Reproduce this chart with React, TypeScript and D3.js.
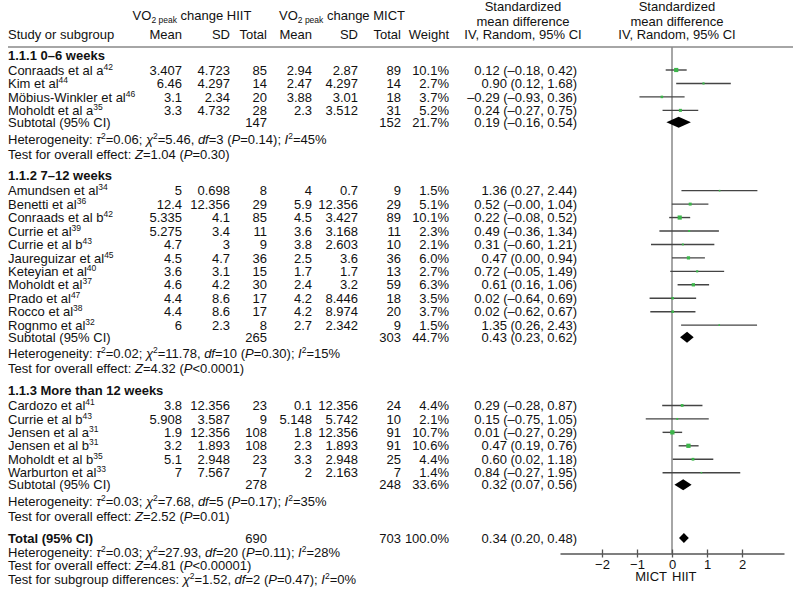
import React, { useEffect, useRef } from "react";
import * as d3 from "d3";

// name, sup, hiit mean, hiit sd, hiit n, mict mean, mict sd, mict n, weight, smd, lo, hi
type Row = [string, string, number, number, number, number, number, number, number, number, number, number];

const sectionTitles = ["1.1.1 0\u20136 weeks", "1.1.2 7\u201312 weeks", "1.1.3 More than 12 weeks"];

const studies0to6: Row[] = [
  ["Conraads et al a", "42", 3.407, 4.723, 85, 2.94, 2.87, 89, 10.1, 0.12, -0.18, 0.42],
  ["Kim et al", "44", 6.46, 4.297, 14, 2.47, 4.297, 14, 2.7, 0.9, 0.12, 1.68],
  ["M\u00f6bius-Winkler et al", "46", 3.1, 2.34, 20, 3.88, 3.01, 18, 3.7, -0.29, -0.93, 0.36],
  ["Moholdt et al a", "35", 3.3, 4.732, 28, 2.3, 3.512, 31, 5.2, 0.24, -0.27, 0.75],
];

const studies7to12: Row[] = [
  ["Amundsen et al", "34", 5, 0.698, 8, 4, 0.7, 9, 1.5, 1.36, 0.27, 2.44],
  ["Benetti et al", "36", 12.4, 12.356, 29, 5.9, 12.356, 29, 5.1, 0.52, -0.004, 1.04],
  ["Conraads et al b", "42", 5.335, 4.1, 85, 4.5, 3.427, 89, 10.1, 0.22, -0.08, 0.52],
  ["Currie et al", "39", 5.275, 3.4, 11, 3.6, 3.168, 11, 2.3, 0.49, -0.36, 1.34],
  ["Currie et al b", "43", 4.7, 3, 9, 3.8, 2.603, 10, 2.1, 0.31, -0.6, 1.21],
  ["Jaureguizar et al", "45", 4.5, 4.7, 36, 2.5, 3.6, 36, 6.0, 0.47, 0.0, 0.94],
  ["Keteyian et al", "40", 3.6, 3.1, 15, 1.7, 1.7, 13, 2.7, 0.72, -0.05, 1.49],
  ["Moholdt et al", "37", 4.6, 4.2, 30, 2.4, 3.2, 59, 6.3, 0.61, 0.16, 1.06],
  ["Prado et al", "47", 4.4, 8.6, 17, 4.2, 8.446, 18, 3.5, 0.02, -0.64, 0.69],
  ["Rocco et al", "38", 4.4, 8.6, 17, 4.2, 8.974, 20, 3.7, 0.02, -0.62, 0.67],
  ["Rognmo et al", "32", 6, 2.3, 8, 2.7, 2.342, 9, 1.5, 1.35, 0.26, 2.43],
];

const studiesOver12: Row[] = [
  ["Cardozo et al", "41", 3.8, 12.356, 23, 0.1, 12.356, 24, 4.4, 0.29, -0.28, 0.87],
  ["Currie et al b", "43", 5.908, 3.587, 9, 5.148, 5.742, 10, 2.1, 0.15, -0.75, 1.05],
  ["Jensen et al a", "31", 1.9, 12.356, 108, 1.8, 12.356, 91, 10.7, 0.01, -0.27, 0.29],
  ["Jensen et al b", "31", 3.2, 1.893, 108, 2.3, 1.893, 91, 10.6, 0.47, 0.19, 0.76],
  ["Moholdt et al b", "35", 5.1, 2.948, 23, 3.3, 2.948, 25, 4.4, 0.6, 0.02, 1.18],
  ["Warburton et al", "33", 7, 7.567, 7, 2, 2.163, 7, 1.4, 0.84, -0.27, 1.95],
];

const sectionStudies = [studies0to6, studies7to12, studiesOver12];

// subtotals: hiit n, mict n, weight, smd, lo, hi
const subtotals: [number, number, number, number, number, number][] = [
  [147, 152, 21.7, 0.19, -0.16, 0.54],
  [265, 303, 44.7, 0.43, 0.23, 0.62],
  [278, 248, 33.6, 0.32, 0.07, 0.56],
];
const overall: [number, number, number, number, number, number] = [690, 703, 100.0, 0.34, 0.2, 0.48];

// heterogeneity: sections 1-3 then total
const hetTau2 = ["0.06", "0.02", "0.03", "0.03"];
const hetChi2 = ["5.46", "11.78", "7.68", "27.93"];
const hetDf = [3, 10, 5, 20];
const hetP = ["=0.14", "=0.30", "=0.17", "=0.11"];
const hetI2 = [45, 15, 35, 28];
const testZ = ["1.04", "4.32", "2.52", "4.81"];
const testP = ["=0.30", "<0.0001", "=0.01", "<0.00001"];
const subgroupChi2 = "1.52";
const subgroupDf = 2;
const subgroupP = "=0.47";
const subgroupI2 = 0;

const axisTicks = [-2, -1, 0, 1, 2];

const FONT = "'Liberation Sans', Arial, Helvetica, sans-serif";
const ROW = 13.45;
const GREEN = "#3cb54a";

const col = { mean1: 182, sd1: 230, n1: 267, mean2: 312, sd2: 358, n2: 401, w: 449, ci: 577 };

const fmtNum = (v: number) => v.toFixed(2).replace("-", "\u2013");
const ciText = (e: number, l: number, h: number) => `${fmtNum(e)} (${fmtNum(l)}, ${fmtNum(h)})`;

// text pieces: "" plain, "i" italic, "s" superscript
type Seg = [string, string];
const Rich = ({ segs }: { segs: Seg[] }) => (
  <>
    {segs.map((s, i) => {
      const prevSup = i > 0 && segs[i - 1][1] === "s";
      const dy = s[1] === "s" ? -5 : prevSup ? 5 : undefined;
      return (
        <tspan
          key={i}
          dy={dy}
          fontStyle={s[1] === "i" ? "italic" : undefined}
          fontSize={s[1] === "s" ? 8.5 : undefined}
        >
          {s[0]}
        </tspan>
      );
    })}
  </>
);

export default function App() {
  const axisRef = useRef<SVGGElement>(null);

  const x = d3.scaleLinear().domain([-3.2, 3.2]).range([560, 784]);
  const size = d3.scaleSqrt().domain([0, 10.7]).range([0, 4.3]);

  // layout of rows
  type Item = { kind: string; y: number; idx: number; s?: number };
  const items: Item[] = [];
  let y = 55;
  sectionStudies.forEach((list, s) => {
    items.push({ kind: "title", y, idx: s });
    y += 15;
    list.forEach((_, i) => {
      items.push({ kind: "study", y, idx: i, s });
      y += ROW;
    });
    y = y - ROW + 12;
    items.push({ kind: "sub", y, idx: s });
    y += 16.6;
    items.push({ kind: "het", y, idx: s });
    y += 15;
    items.push({ kind: "test", y, idx: s });
    y += 21.7;
  });
  const totalY = y;
  const axisY = totalY + 15.5;

  useEffect(() => {
    if (!axisRef.current) return;
    const g = d3.select(axisRef.current);
    g.selectAll("*").remove();
    g.call(
      d3.axisBottom(x).tickValues(axisTicks).tickSize(4).tickSizeOuter(0).tickFormat(d3.format("d")) as any
    );
    g.select(".domain").attr("stroke", "#555").attr("stroke-width", 1.3);
    g.selectAll(".tick line").attr("y1", -4).attr("stroke", "#555").attr("stroke-width", 1.3);
    g.selectAll(".tick text").attr("font-size", 13).attr("font-family", FONT).attr("fill", "#111").attr("y", 6);
  }, []);

  const baseline = (cy: number) => cy + 4.6;

  const hetSegs = (k: number): Seg[] => [
    ["Heterogeneity: ", ""],
    ["\u03c4", "i"],
    ["2", "s"],
    [`=${hetTau2[k]}; `, ""],
    ["\u03c7", "i"],
    ["2", "s"],
    [`=${hetChi2[k]}, `, ""],
    ["df", "i"],
    [`=${hetDf[k]} (`, ""],
    ["P", "i"],
    [`${hetP[k]}); `, ""],
    ["I", "i"],
    ["2", "s"],
    [`=${hetI2[k]}%`, ""],
  ];
  const testSegs = (k: number): Seg[] => [
    ["Test for overall effect: ", ""],
    ["Z", "i"],
    [`=${testZ[k]} (`, ""],
    ["P", "i"],
    [`${testP[k]})`, ""],
  ];
  const subgroupSegs: Seg[] = [
    ["Test for subgroup differences: ", ""],
    ["\u03c7", "i"],
    ["2", "s"],
    [`=${subgroupChi2}, `, ""],
    ["df", "i"],
    [`=${subgroupDf} (`, ""],
    ["P", "i"],
    [`${subgroupP}); `, ""],
    ["I", "i"],
    ["2", "s"],
    [`=${subgroupI2}%`, ""],
  ];

  const diamond = (e: number, l: number, h: number, cy: number, hh: number) => (
    <path
      d={`M${x(l)},${cy} L${x(e)},${cy - hh} L${x(h)},${cy} L${x(e)},${cy + hh} Z`}
      fill="#000"
    />
  );

  const hdrY = 38.8;

  return (
    <svg
      width={793}
      height={592}
      style={{ position: "absolute", left: 0, top: 0, background: "#fff" }}
      fontFamily={FONT}
      fontSize={13}
      fill="#111"
    >
      {/* headers */}
      <text x={192} y={19.5} textAnchor="middle">
        <tspan>VO</tspan>
        <tspan fontSize={8.5} dy={3}>2 peak</tspan>
        <tspan dy={-3}> change HIIT</tspan>
      </text>
      <text x={342} y={19.5} textAnchor="middle">
        <tspan>VO</tspan>
        <tspan fontSize={8.5} dy={3}>2 peak</tspan>
        <tspan dy={-3}> change MICT</tspan>
      </text>
      <text x={8} y={hdrY}>Study or subgroup</text>
      <text x={col.mean1} y={hdrY} textAnchor="end">Mean</text>
      <text x={col.sd1} y={hdrY} textAnchor="end">SD</text>
      <text x={col.n1} y={hdrY} textAnchor="end">Total</text>
      <text x={col.mean2} y={hdrY} textAnchor="end">Mean</text>
      <text x={col.sd2} y={hdrY} textAnchor="end">SD</text>
      <text x={col.n2} y={hdrY} textAnchor="end">Total</text>
      <text x={col.w} y={hdrY} textAnchor="end">Weight</text>
      {[523, 677].map((cx) => (
        <g key={cx}>
          <text x={cx} y={11} textAnchor="middle">Standardized</text>
          <text x={cx} y={25.5} textAnchor="middle">mean difference</text>
          <text x={cx} y={hdrY} textAnchor="middle">IV, Random, 95% CI</text>
        </g>
      ))}
      <line x1={8} x2={793} y1={47} y2={47} stroke="#888" strokeWidth={1.5} />

      {/* zero line */}
      <line x1={x(0)} x2={x(0)} y1={47} y2={axisY} stroke="#888" strokeWidth={1.5} />

      {items.map((it, i) => {
        if (it.kind === "title")
          return (
            <text key={i} x={8} y={baseline(it.y)} fontWeight="bold">
              {sectionTitles[it.idx]}
            </text>
          );
        if (it.kind === "study") {
          const r = sectionStudies[it.s!][it.idx];
          const by = baseline(it.y);
          const sz = size(r[8]);
          return (
            <g key={i}>
              <text x={8} y={by}>
                <Rich segs={[[r[0], ""], [r[1], "s"]]} />
              </text>
              <text x={col.mean1} y={by} textAnchor="end">{r[2]}</text>
              <text x={col.sd1} y={by} textAnchor="end">{r[3]}</text>
              <text x={col.n1} y={by} textAnchor="end">{r[4]}</text>
              <text x={col.mean2} y={by} textAnchor="end">{r[5]}</text>
              <text x={col.sd2} y={by} textAnchor="end">{r[6]}</text>
              <text x={col.n2} y={by} textAnchor="end">{r[7]}</text>
              <text x={col.w} y={by} textAnchor="end">{r[8].toFixed(1)}%</text>
              <text x={col.ci} y={by} textAnchor="end">{ciText(r[9], r[10], r[11])}</text>
              <line x1={x(r[10])} x2={x(r[11])} y1={it.y} y2={it.y} stroke="#444" strokeWidth={1.4} />
              <rect x={x(r[9]) - sz / 2} y={it.y - sz / 2} width={sz} height={sz} fill={GREEN} />
            </g>
          );
        }
        if (it.kind === "sub") {
          const r = subtotals[it.idx];
          const by = baseline(it.y);
          return (
            <g key={i}>
              <text x={8} y={by}>Subtotal (95% CI)</text>
              <text x={col.n1} y={by} textAnchor="end">{r[0]}</text>
              <text x={col.n2} y={by} textAnchor="end">{r[1]}</text>
              <text x={col.w} y={by} textAnchor="end">{r[2].toFixed(1)}%</text>
              <text x={col.ci} y={by} textAnchor="end">{ciText(r[3], r[4], r[5])}</text>
              {diamond(r[3], r[4], r[5], it.y, 5.5)}
            </g>
          );
        }
        if (it.kind === "het")
          return (
            <text key={i} x={8} y={baseline(it.y)}>
              <Rich segs={hetSegs(it.idx)} />
            </text>
          );
        return (
          <text key={i} x={8} y={baseline(it.y)}>
            <Rich segs={testSegs(it.idx)} />
          </text>
        );
      })}

      {/* overall */}
      <text x={8} y={baseline(totalY)} fontWeight="bold">Total (95% CI)</text>
      <text x={col.n1} y={baseline(totalY)} textAnchor="end">{overall[0]}</text>
      <text x={col.n2} y={baseline(totalY)} textAnchor="end">{overall[1]}</text>
      <text x={col.w} y={baseline(totalY)} textAnchor="end">{overall[2].toFixed(1)}%</text>
      <text x={col.ci} y={baseline(totalY)} textAnchor="end">{ciText(overall[3], overall[4], overall[5])}</text>
      {diamond(overall[3], overall[4], overall[5], totalY, 5)}
      <text x={8} y={baseline(totalY + 14.3)}>
        <Rich segs={hetSegs(3)} />
      </text>
      <text x={8} y={baseline(totalY + 27.6)}>
        <Rich segs={testSegs(3)} />
      </text>
      <text x={8} y={baseline(totalY + 41)}>
        <Rich segs={subgroupSegs} />
      </text>

      {/* axis */}
      <g ref={axisRef} transform={`translate(0,${axisY})`} />
      <text x={x(0) - 5} y={axisY + 27} textAnchor="end">MICT</text>
      <text x={x(0)} y={axisY + 27}>HIIT</text>
    </svg>
  );
}
